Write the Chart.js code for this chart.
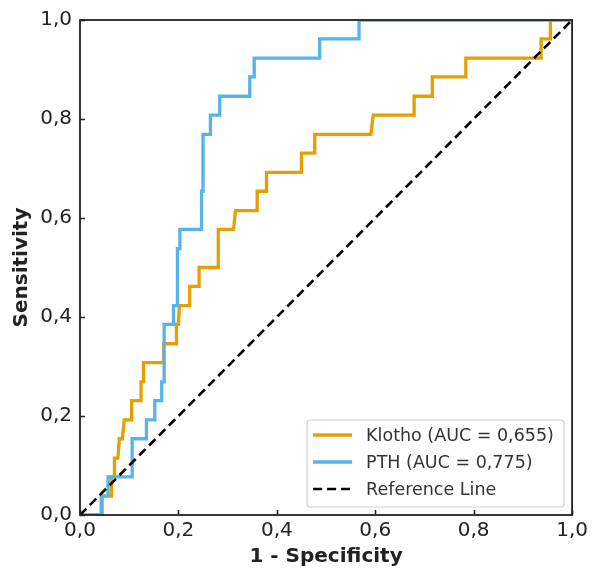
<!DOCTYPE html>
<html>
<head>
<meta charset="utf-8">
<script src="https://cdn.jsdelivr.net/npm/chart.js@4/dist/chart.umd.min.js"></script>
<style>
  html, body { margin: 0; padding: 0; background: #fff; }
  #wrap { width: 592px; height: 569px; position: relative; }
</style>
</head>
<body>
<div id="wrap"><canvas id="roc"></canvas></div>
<script>
// ROC curve points, 1 - specificity (x) against sensitivity (y)
const klothoFpr = [0, 0.045, 0.045, 0.064, 0.064, 0.070, 0.070, 0.077, 0.080, 0.086, 0.090, 0.105, 0.105, 0.124, 0.124, 0.129, 0.129, 0.170, 0.170, 0.196, 0.196, 0.200, 0.202, 0.223, 0.223, 0.242, 0.242, 0.281, 0.281, 0.312, 0.316, 0.360, 0.360, 0.379, 0.379, 0.450, 0.450, 0.477, 0.477, 0.591, 0.596, 0.679, 0.679, 0.716, 0.716, 0.784, 0.784, 0.937, 0.937, 0.956, 0.956, 1];
const klothoTpr = [0, 0, 0.038, 0.038, 0.077, 0.077, 0.115, 0.115, 0.154, 0.154, 0.192, 0.192, 0.231, 0.231, 0.269, 0.269, 0.308, 0.308, 0.346, 0.346, 0.385, 0.385, 0.423, 0.423, 0.462, 0.462, 0.500, 0.500, 0.577, 0.577, 0.615, 0.615, 0.654, 0.654, 0.692, 0.692, 0.731, 0.731, 0.769, 0.769, 0.808, 0.808, 0.846, 0.846, 0.885, 0.885, 0.923, 0.923, 0.962, 0.962, 1, 1];

const pthFpr = [0, 0.043, 0.043, 0.057, 0.057, 0.106, 0.106, 0.135, 0.135, 0.152, 0.152, 0.166, 0.166, 0.171, 0.171, 0.190, 0.190, 0.198, 0.198, 0.203, 0.203, 0.247, 0.247, 0.250, 0.250, 0.265, 0.265, 0.284, 0.284, 0.345, 0.345, 0.354, 0.354, 0.487, 0.487, 0.567, 0.567, 1];
const pthTpr = [0, 0, 0.038, 0.038, 0.077, 0.077, 0.154, 0.154, 0.192, 0.192, 0.231, 0.231, 0.269, 0.269, 0.385, 0.385, 0.423, 0.423, 0.538, 0.538, 0.577, 0.577, 0.654, 0.654, 0.769, 0.769, 0.808, 0.808, 0.846, 0.846, 0.885, 0.885, 0.923, 0.923, 0.962, 0.962, 1, 1];

const refFpr = [0, 1];
const refTpr = [0, 1];

const seriesLabels = ['Klotho (AUC = 0,655)', 'PTH (AUC = 0,775)', 'Reference Line'];
const tickValues = [0, 0.2, 0.4, 0.6, 0.8, 1.0];

const ORANGE = '#E69F00';
const BLUE = '#56B4E9';
const FONT = "'DejaVu Sans', sans-serif";

function toPoints(xs, ys) {
  return xs.map((x, i) => ({ x, y: ys[i] }));
}
function fmt(v) {
  return Number(v).toFixed(1).replace('.', ',');
}

// frame + inward tick marks, drawn over the curves like matplotlib spines
const framePlugin = {
  id: 'frame',
  afterDatasetsDraw(chart) {
    const { ctx, chartArea: a, scales } = chart;
    ctx.save();
    ctx.strokeStyle = '#222';
    ctx.lineWidth = 1.6;
    const tl = 5;
    ctx.beginPath();
    for (const v of tickValues) {
      const px = Math.round(scales.x.getPixelForValue(v)) + 0.5;
      ctx.moveTo(px, a.bottom); ctx.lineTo(px, a.bottom - tl);
      const py = Math.round(scales.y.getPixelForValue(v)) + 0.5;
      ctx.moveTo(a.left, py); ctx.lineTo(a.left + tl, py);
    }
    ctx.stroke();
    ctx.lineWidth = 1.8;
    ctx.strokeRect(a.left, a.top, a.right - a.left, a.bottom - a.top);
    ctx.restore();
  },
  afterDraw(chart) {
    // legend box in the lower right corner of the plot
    const { ctx, chartArea: a } = chart;
    const w = 257, h = 87;
    const x0 = a.right - 8 - w, y0 = a.bottom - 8 - h;
    ctx.save();
    ctx.fillStyle = 'rgba(255,255,255,0.85)';
    ctx.strokeStyle = '#d0d0d0';
    ctx.lineWidth = 1.2;
    ctx.beginPath();
    ctx.roundRect(x0, y0, w, h, 3);
    ctx.fill();
    ctx.stroke();
    ctx.font = '17.5px ' + FONT;
    ctx.textBaseline = 'middle';
    ctx.fillStyle = '#333';
    chart.data.datasets.forEach((ds, i) => {
      const cy = y0 + 15 + i * 27;
      ctx.beginPath();
      ctx.strokeStyle = ds.borderColor;
      ctx.lineWidth = ds.borderWidth;
      ctx.setLineDash(ds.borderDash || []);
      ctx.moveTo(x0 + 6, cy);
      ctx.lineTo(x0 + 45, cy);
      ctx.stroke();
      ctx.setLineDash([]);
      ctx.fillText(ds.label, x0 + 59, cy + 1);
    });
    ctx.restore();
  }
};

new Chart(document.getElementById('roc'), {
  type: 'scatter',
  data: {
    datasets: [
      { label: seriesLabels[0], data: toPoints(klothoFpr, klothoTpr), borderColor: ORANGE, backgroundColor: ORANGE, borderWidth: 3.3, order: 2 },
      { label: seriesLabels[1], data: toPoints(pthFpr, pthTpr), borderColor: BLUE, backgroundColor: BLUE, borderWidth: 3.3, order: 1 },
      { label: seriesLabels[2], data: toPoints(refFpr, refTpr), borderColor: '#000', backgroundColor: '#000', borderWidth: 2.6, borderDash: [9, 5], order: 0 }
    ]
  },
  options: {
    responsive: true,
    maintainAspectRatio: false,
    animation: false,
    showLine: true,
    elements: { point: { radius: 0, hoverRadius: 0 }, line: { tension: 0, borderCapStyle: 'butt', borderJoinStyle: 'miter' } },
    layout: { padding: { top: 19, right: 19, left: 0, bottom: 0 } },
    plugins: { legend: { display: false }, tooltip: { enabled: false } },
    scales: {
      x: {
        type: 'linear', min: 0, max: 1,
        afterFit(s) { s.height = 54; },
        afterBuildTicks(s) { s.ticks = tickValues.map(v => ({ value: v })); },
        grid: { display: false, drawTicks: false },
        border: { display: false },
        ticks: { padding: 4, color: '#222', font: { family: FONT, size: 20 }, callback: fmt, maxRotation: 0 },
        title: { display: true, text: '1 - Specificity', color: '#222', font: { family: FONT, size: 20, weight: 'bold' }, padding: { top: 0, bottom: 0 } }
      },
      y: {
        type: 'linear', min: 0, max: 1,
        afterFit(s) { s.width = 80; },
        afterBuildTicks(s) { s.ticks = tickValues.map(v => ({ value: v })); },
        grid: { display: false, drawTicks: false },
        border: { display: false },
        ticks: { padding: 8, color: '#222', font: { family: FONT, size: 20 }, callback: fmt },
        title: { display: true, text: 'Sensitivity', color: '#222', font: { family: FONT, size: 20, weight: 'bold' }, padding: { top: 10, bottom: 0 } }
      }
    }
  },
  plugins: [framePlugin]
});
</script>
</body>
</html>
